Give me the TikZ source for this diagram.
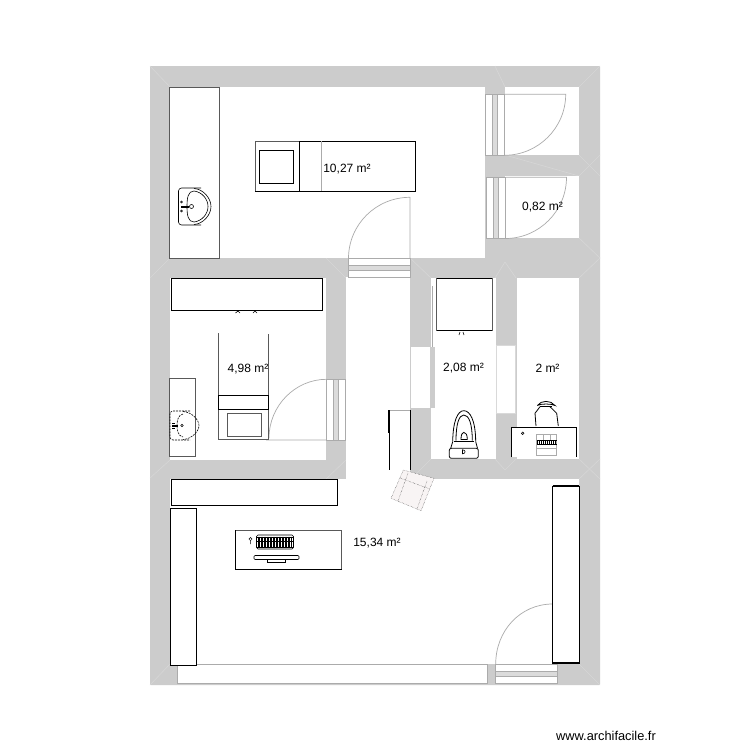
\documentclass[tikz,border=0pt]{standalone}
\usepackage{fontspec}
\setmainfont{Liberation Sans}
\definecolor{wallgrey}{HTML}{CCCCCC}
\definecolor{miter}{HTML}{D6D6D6}
\definecolor{doorgrey}{HTML}{ABABAB}
\definecolor{chairfill}{HTML}{F8F4F4}
\tikzset{
    wall/.style={fill=wallgrey},
    room/.style={fill=white},
    miterline/.style={draw=miter, line width=0.6pt},
    doorbox/.style={draw=doorgrey, fill=white, line width=0.7pt},
    doorband/.style={draw=doorgrey, fill=wallgrey!70, line width=0.7pt},
    swing/.style={draw=doorgrey, line width=0.7pt},
    unit/.style={draw=black, fill=white, line width=0.9pt},
    softunit/.style={draw=black!65, fill=white, line width=0.8pt},
    sym/.style={draw=black, line width=0.6pt},
    area/.style={font=\fontsize{12}{14}\selectfont, inner sep=0pt}
}
\begin{document}
\begin{tikzpicture}[x=1pt, y=-1pt]
    \useasboundingbox (0,0) rectangle (750,750);
    \fill[white] (0,0) rectangle (750,750);

    \fill[wall, rounded corners=1pt] (150,66) rectangle (600,685);

    \foreach \xa/\ya/\xb/\yb in {150/66/170/87, 600/66/579/87, 150/685/170/664, 600/685/579/664,
            170/258/150/278, 326/258/346/278, 326/479/346/460, 505/87/495/66, 505/155/579/176,
            579/238/600/258, 579/278/600/258, 516/278/505/262, 495/278/505/262, 431/278/410/258,
            431/459/410/480, 495/459/505/470, 516/459/505/470, 579/459/600/479, 579/479/600/459,
            170/460/150/478, 579/155/600/176, 579/176/600/155} {
        \draw[miterline] (\xa,\ya) -- (\xb,\yb);
    }

    \fill[room] (170,87) rectangle (485,258);
    \fill[room] (505,87) rectangle (579,155);
    \fill[room] (505,176) rectangle (579,238);
    \fill[room] (170,278) rectangle (326,460);
    \fill[room] (346,277) rectangle (410,480);
    \fill[room] (431,278) rectangle (495.5,458.5);
    \fill[room] (516.5,278) rectangle (579,458.5);
    \fill[room] (170,479) rectangle (579,664);

    % doors
    \draw[doorbox] (485,94.3) rectangle (504.5,155.3);
    \draw[doorband] (492.5,94.3) rectangle (497.5,155.3);
    \draw[swing] (504.5,94.3) -- (565.7,94.3) .. controls (565.7,128) and (538,155.3) .. (504.5,155.3);

    \draw[doorbox] (486,177.3) rectangle (505.5,238.5);
    \draw[doorband] (493.5,177.3) rectangle (498.5,238.5);
    \draw[swing] (505.5,177.3) -- (566.5,177.3) .. controls (566.5,211) and (539,238.5) .. (505.5,238.5);

    \draw[doorbox] (348.5,258.5) rectangle (410,277);
    \draw[doorband] (348.5,265.7) rectangle (410,270.7);
    \draw[swing] (348.5,258.5) .. controls (348.5,224.5) and (376,197.3) .. (410,197.3) -- (410,258.5);

    \draw[doorbox] (326.5,379.3) rectangle (345.5,440);
    \draw[doorband] (333.5,379.3) rectangle (338.7,440);
    \draw[swing] (326.5,379.3) .. controls (295,379.3) and (269,406) .. (269,438) (266,440) -- (326.5,440);

    \fill[white] (411,347) rectangle (430,408);
    \fill[wallgrey] (430,347) rectangle (434.5,408);
    \draw[swing] (432,286) -- (432,347);

    \draw[doorbox, draw=white!85!black] (496.5,345) rectangle (515,413);

    \draw[doorbox] (177,664) rectangle (487,683.5);

    \draw[doorbox] (495.7,664) rectangle (557.3,683.5);
    \draw[doorband] (495.7,671) rectangle (557.3,676.7);
    \draw[swing] (495.7,664) .. controls (495.7,631) and (520,604) .. (552.7,604);

    % storage units
    \draw[softunit] (169.5,87) rectangle (219,258.7);
    \draw[unit] (171,278.5) rectangle (322.5,310.5);
    \draw[softunit] (169.5,378.5) rectangle (195.5,456.5);
    \draw[unit] (171,479) rectangle (337,505);
    \draw[unit] (170.5,508) rectangle (196.5,665);
    \draw[unit] (552.5,486) rectangle (579,663);
    \draw[black, line width=1.4pt] (552.5,486) -- (579,486) (552.5,663) -- (579,663);

    \draw[softunit] (436.5,278.5) rectangle (492,330.5);
    \draw[black, line width=1.2pt] (436.5,278.5) -- (492,278.5) (436.5,330.5) -- (492,330.5);
    \draw[sym] (459,335) -- (460,332) (463,332) -- (464,335);
    \draw[sym] (235.5,313) -- (238,311) -- (240,313) (253,313) -- (255,311) -- (257,313);

    \fill[white] (389,410) rectangle (410.5,470);
    \draw[doorgrey, line width=0.7pt] (389,410) -- (410.5,410);
    \draw[black, line width=0.9pt] (410.5,410) -- (410.5,470);
    \draw[black, line width=0.7pt] (389,433) -- (389,470);
    \draw[black, line width=1.5pt] (389,410) -- (389,433);

    % beds
    \draw[softunit] (255,141) rectangle (415.7,191.3);
    \draw[black, line width=0.8pt] (255,191.3) -- (415.7,191.3) -- (415.7,141) -- (299.5,141);
    \draw[black, line width=0.9pt] (299.5,141) -- (299.5,191.3);
    \draw[doorgrey, line width=0.9pt] (321,141) -- (321,191.3);
    \draw[sym, line width=0.8pt] (259.5,150) rectangle (293.5,183.5);

    \draw[softunit] (218.5,333) rectangle (268.5,439.5);
    \draw[white, line width=0.9pt] (218.5,333) -- (268.5,333);
    \draw[sym, line width=0.8pt] (218.5,395.5) rectangle (268.5,409.5);
    \draw[softunit, line width=0.6pt] (227.5,413.5) rectangle (261,436.5);

    % sinks
    \draw[sym, rounded corners=3pt] (201,188) -- (178.5,188) -- (178.5,225) -- (201,225);
    \draw[sym] (194,188.5) .. controls (203,189) and (211,198) .. (211,206.5) .. controls (211,215) and (203,224) .. (194,224.5);
    \draw[sym] (194,191) .. controls (188,191) and (187,198) .. (187,206.5) .. controls (187,215) and (188,222) .. (194,222);
    \draw[sym] (194,191) .. controls (202,192) and (208,199) .. (208,206.5) .. controls (208,214) and (202,221) .. (194,222);
    \draw[sym] (181,206) -- (189,206) (181,207.5) -- (189,207.5);
    \draw[sym] (191.5,206.5) circle[radius=2];
    \draw[sym] (181.5,202) circle[radius=1] (181.5,211) circle[radius=1];

    \draw[sym, dash pattern=on 2pt off 1pt, rounded corners=3pt] (190,411) -- (170,411) -- (170,440) -- (190,440);
    \draw[sym, dash pattern=on 2pt off 1pt] (183,411.5) .. controls (192,412) and (199,420) .. (199,425.5) .. controls (199,431) and (192,439) .. (183,439.5);
    \draw[sym, dash pattern=on 2pt off 1pt] (183,414) .. controls (178,415) and (177,421) .. (177,425.5) .. controls (177,430) and (178,436) .. (183,437);
    \draw[sym] (172,425) -- (178,425) (172,426.5) -- (178,426.5) (172,423) -- (175,423) (172,428.5) -- (175,428.5);
    \draw[sym] (182,425.5) circle[radius=1.3];

    % toilet
    \draw[sym, line width=0.8pt] (452.7,441.7) .. controls (453,420) and (458,410.7) .. (463.8,410.7) .. controls (470,410.7) and (475.5,420) .. (475.7,441.7);
    \draw[sym, line width=0.8pt] (456,440.7) .. controls (456,424) and (459,415) .. (463.8,415) .. controls (469,415) and (472.3,424) .. (472.3,440.7);
    \draw[sym, line width=0.8pt] (454,441) -- (474,441);
    \draw[sym, line width=0.8pt] (461,439.5) .. controls (461,435) and (462,432.3) .. (463.8,432.3) .. controls (466,432.3) and (467.3,435) .. (467.3,439.5) -- cycle;
    \draw[sym, line width=0.8pt] (452.7,441.7) -- (450.7,448.3) (475.7,441.7) -- (477.5,448.3);
    \draw[sym, line width=0.8pt, rounded corners=2pt] (449.3,448.3) rectangle (478.3,458.3);
    \draw[sym] (462.5,449.8) .. controls (466,450) and (466,453.6) .. (462.5,453.8) -- cycle;

    % desk and chair
    \fill[white] (511.3,427.3) rectangle (576.7,457);
    \draw[sym, line width=0.8pt] (537.3,405.5) .. controls (541,400) and (551,400) .. (555,405.5) .. controls (551,403.5) and (541,403.5) .. (537.3,405.5);
    \draw[sym, line width=0.8pt] (536,426) -- (535,413.3) -- (540,406.7) (550,406.7) -- (556.7,413.3) -- (558.3,426);
    \draw[sym] (540,406.7) -- (552,406.7);
    \draw[black, line width=0.9pt] (511.3,457) -- (511.3,427.3) -- (576.7,427.3) -- (576.7,457);
    \draw[sym] (522.7,433.3) circle[radius=1.3];
    \draw[doorgrey, line width=0.7pt] (536.7,434) rectangle (556.7,455);
    \draw[doorgrey, line width=0.7pt] (536.7,448) -- (556.7,448) (543,434) -- (543,440) (550,434) -- (550,440);
    \foreach \xk in {537,539,...,556} {
        \draw[black, line width=0.7pt] (\xk,440) -- (\xk,445);
    }
    \draw[black, line width=0.7pt] (536.7,440.5) -- (556.7,440.5) (536.7,444.5) -- (556.7,444.5);

    \draw[softunit] (235.5,530) rectangle (341.5,569.5);
    \draw[black, line width=0.8pt] (341.5,569.5) -- (235.5,569.5) -- (235.5,530);
    \draw[sym, rounded corners=1.5pt] (256.5,535) rectangle (293.5,549);
    \foreach \xk in {258,259.5,...,292} {
        \draw[black, line width=0.35pt] (\xk,536.5) -- (\xk,547.5);
    }
    \draw[sym] (257,537) -- (293,537) (257,541) -- (293,541) (257,547) -- (293,547);
    \draw[sym, line width=0.5pt] (250.5,539) circle[radius=1.6] (250.5,541) -- (250.5,544);
    \draw[sym, rounded corners=1pt] (254,555.5) rectangle (299,559.5);
    \draw[sym] (267,559.5) -- (267,562.5) -- (285.5,562.5) -- (285.5,559.5);

    % armchair
    \draw[black!80, line width=0.4pt, densely dotted, fill=chairfill] (403.3,470) -- (434,478.3) -- (421,510.7) -- (391,498.3) -- cycle;
    \draw[black!80, line width=0.4pt, densely dotted] (400,478) -- (430,489) (398,501) -- (408,473) (417,509) -- (427,481);

    \node[area] (roomA) at (347,169) {10,27 m²};
    \node[area] (roomB) at (542.5,207) {0,82 m²};
    \node[area] (roomC) at (248,369) {4,98 m²};
    \node[area] (roomD) at (463.5,368) {2,08 m²};
    \node[area] (roomE) at (547.5,368) {2 m²};
    \node[area] (roomF) at (377,543.5) {15,34 m²};
    \node[inner sep=0pt, font=\fontsize{12.8}{14}\selectfont] (brand) at (606,735.5) {www.archifacile.fr};
\end{tikzpicture}
\end{document}
